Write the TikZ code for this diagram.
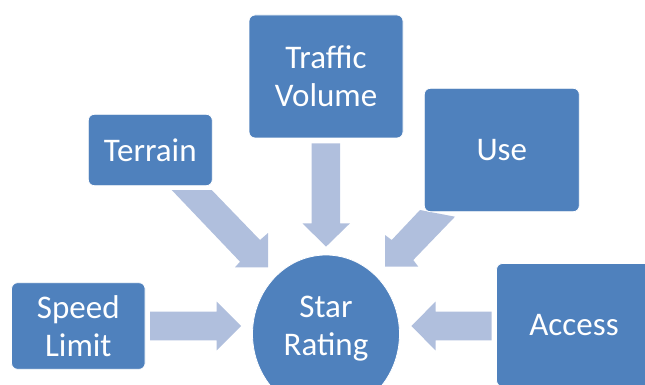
\documentclass[tikz,border=0pt]{standalone}
\usepackage{fontspec}
\setmainfont{Carlito}
\usetikzlibrary{shapes.geometric}
\definecolor{boxblue}{HTML}{4F81BD}
\definecolor{arrowblue}{HTML}{B0BFDD}

\begin{document}
\begin{tikzpicture}[x=1pt,y=-1pt,
  factor/.style={draw=white,line width=0.8pt,fill=boxblue,rounded corners=6pt,text=white,align=center,inner sep=0pt,font=\fontsize{33}{38}\selectfont},
  rating/.style={ellipse,draw=white,line width=0.8pt,fill=boxblue,inner sep=0pt,minimum width=147pt,minimum height=158pt},
  ratingtext/.style={text=white,align=center,inner sep=0pt,font=\fontsize{33}{38}\selectfont},
  blockarrow/.style={fill=arrowblue}]
\useasboundingbox (0,0) rectangle (645,385);
%Arrows
\fill[blockarrow] (311.7,143.3) -- (340,143.3) -- (340,223.3) -- (350,223.3) -- (326,246.7) -- (302.5,223.3) -- (311.7,223.3) -- cycle;
\fill[blockarrow] (171.7,190) -- (211.7,190) -- (260,240) -- (268,233) -- (268,267.3) -- (235,267.3) -- (240,261.7) -- cycle;
\fill[blockarrow] (420,210) -- (455,216.7) -- (413.3,260) -- (418.3,266.7) -- (385,266.7) -- (385,235) -- (391.7,240) -- cycle;
\fill[blockarrow] (150,311.7) -- (216.7,311.7) -- (216.7,301.7) -- (241,326) -- (216.7,350.3) -- (216.7,340.3) -- (150,340.3) -- cycle;
\fill[blockarrow] (491.6,311.7) -- (435.5,311.7) -- (435.5,301.7) -- (411.3,326) -- (435.5,350.3) -- (435.5,340.3) -- (491.6,340.3) -- cycle;
%Boxes
\node[factor,minimum width=154pt,minimum height=123pt] (traffic) at (326,76.5) {Traffic\\Volume};
\node[factor,minimum width=124pt,minimum height=71.4pt] (terrain) at (150.3,150) {Terrain};
\node[factor,minimum width=155pt,minimum height=123.4pt] (use) at (501.8,150) {Use};
\node[factor,minimum width=133.5pt,minimum height=86.6pt] (speed) at (78.3,326) {Speed\\Limit};
\node[factor,minimum width=155pt,minimum height=123pt] (access) at (574,325) {Access};
%Centre
\node[rating] (star) at (326,334) {};
\node[ratingtext] (startext) at (326,328.5) {Star\\Rating};
\end{tikzpicture}
\end{document}
